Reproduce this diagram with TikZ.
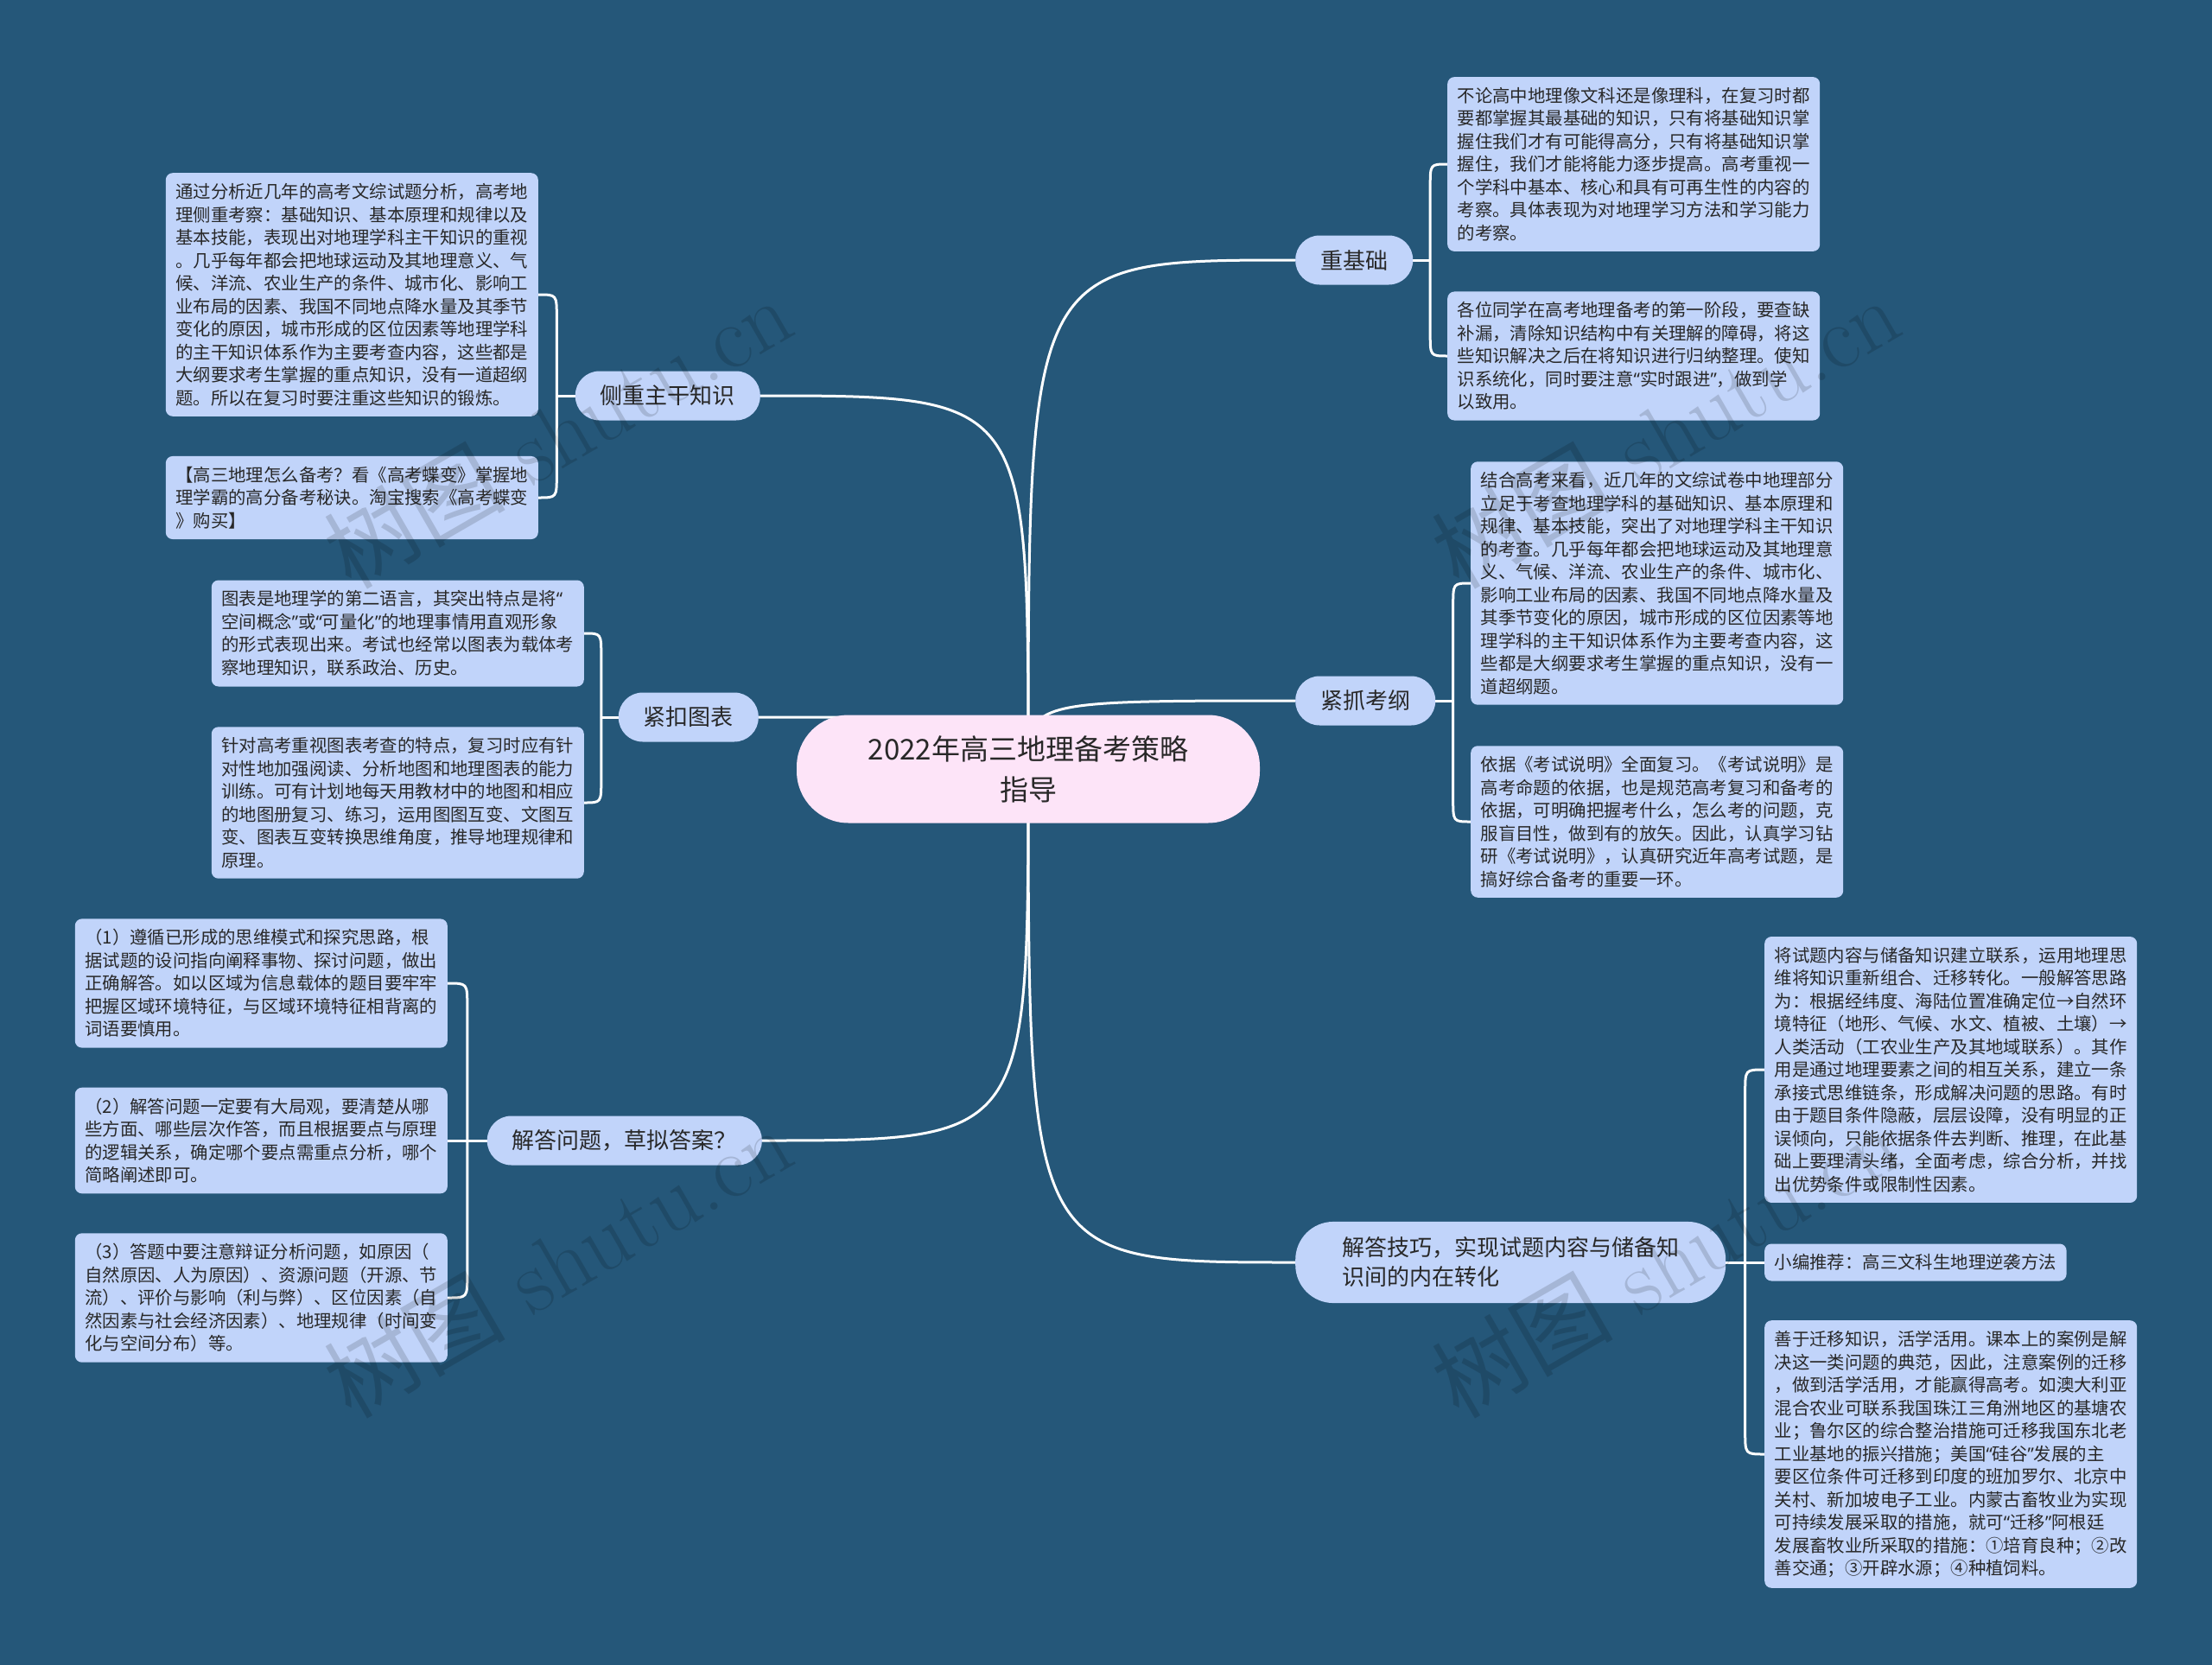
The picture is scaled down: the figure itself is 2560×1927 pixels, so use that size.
\documentclass[tikz,border=0pt]{standalone}
\usepackage{fontspec}
\newfontfamily\cjk{Noto Sans CJK SC}
\newfontfamily\quotefont{Noto Sans}
\newcommand{\qo}{{\quotefont “}}
\newcommand{\qc}{{\quotefont ”}}
\usetikzlibrary{calc,backgrounds}

\definecolor{mapbg}{RGB}{37,87,121}
\definecolor{leafblue}{RGB}{193,212,250}
\definecolor{rootpink}{RGB}{253,228,248}
\definecolor{ink}{RGB}{40,40,40}

\tikzset{
  leaf/.style={fill=leafblue, rounded corners=8pt, align=left, text=ink,
    font=\cjk\fontsize{20.4}{26.5}\selectfont, inner xsep=11.5pt, inner ysep=12pt},
  topic/.style={fill=leafblue, rounded corners=28pt, text=ink,
    font=\cjk\fontsize{26}{34}\selectfont, inner xsep=29pt, minimum height=57pt},
  root/.style={fill=rootpink, rounded corners=60pt, text=ink, align=center,
    font=\cjk\fontsize{33}{47}\selectfont, minimum width=536pt, minimum height=125pt},
  link/.style={draw=white, line width=3pt},
  watermark/.style={rotate=30, text=black, text opacity=0.14,
    font=\fontsize{105}{105}\selectfont}
}

\begin{document}
\begin{tikzpicture}[x=1pt, y=-1pt]
  \useasboundingbox (0,0) rectangle (2560,1927);

  % centre
  \node[root] (root) at (1190,890) {2022年高三地理备考策略\\指导};

  % topics
  \node[topic, anchor=west] (base) at (1499,301) {重基础};
  \node[topic, anchor=west] (outline) at (1499,811) {紧抓考纲};
  \node[topic, anchor=west, align=left, inner xsep=54pt, inner ysep=18pt, rounded corners=44pt] (skill) at (1499,1461) {解答技巧，实现试题内容与储备知\\识间的内在转化};
  \node[topic, anchor=east] (core) at (880,458) {侧重主干知识};
  \node[topic, anchor=east] (chart) at (878,830) {紧扣图表};
  \node[topic, anchor=east] (answer) at (882,1320) {解答问题，草拟答案？};

  % right leaves
  \node[leaf, anchor=west] (baseA) at (1675,190) {不论高中地理像文科还是像理科，在复习时都\\要都掌握其最基础的知识，只有将基础知识掌\\握住我们才有可能得高分，只有将基础知识掌\\握住，我们才能将能力逐步提高。高考重视一\\个学科中基本、核心和具有可再生性的内容的\\考察。具体表现为对地理学习方法和学习能力\\的考察。};
  \node[leaf, anchor=west] (baseB) at (1675,412) {各位同学在高考地理备考的第一阶段，要查缺\\补漏，清除知识结构中有关理解的障碍，将这\\些知识解决之后在将知识进行归纳整理。使知\\识系统化，同时要注意\qo 实时跟进\qc ，做到学\\以致用。};
  \node[leaf, anchor=west] (outlineA) at (1702,675) {结合高考来看，近几年的文综试卷中地理部分\\立足于考查地理学科的基础知识、基本原理和\\规律、基本技能，突出了对地理学科主干知识\\的考查。几乎每年都会把地球运动及其地理意\\义、气候、洋流、农业生产的条件、城市化、\\影响工业布局的因素、我国不同地点降水量及\\其季节变化的原因，城市形成的区位因素等地\\理学科的主干知识体系作为主要考查内容，这\\些都是大纲要求考生掌握的重点知识，没有一\\道超纲题。};
  \node[leaf, anchor=west] (outlineB) at (1702,951) {依据《考试说明》全面复习。《考试说明》是\\高考命题的依据，也是规范高考复习和备考的\\依据，可明确把握考什么，怎么考的问题，克\\服盲目性，做到有的放矢。因此，认真学习钻\\研《考试说明》，认真研究近年高考试题，是\\搞好综合备考的重要一环。};
  \node[leaf, anchor=west] (skillA) at (2042,1238) {将试题内容与储备知识建立联系，运用地理思\\维将知识重新组合、迁移转化。一般解答思路\\为：根据经纬度、海陆位置准确定位→自然环\\境特征（地形、气候、水文、植被、土壤）→\\人类活动（工农业生产及其地域联系）。其作\\用是通过地理要素之间的相互关系，建立一条\\承接式思维链条，形成解决问题的思路。有时\\由于题目条件隐蔽，层层设障，没有明显的正\\误倾向，只能依据条件去判断、推理，在此基\\础上要理清头绪，全面考虑，综合分析，并找\\出优势条件或限制性因素。};
  \node[leaf, anchor=west] (skillB) at (2042,1461) {小编推荐：高三文科生地理逆袭方法};
  \node[leaf, anchor=west] (skillC) at (2042,1683) {善于迁移知识，活学活用。课本上的案例是解\\决这一类问题的典范，因此，注意案例的迁移\\，做到活学活用，才能赢得高考。如澳大利亚\\混合农业可联系我国珠江三角洲地区的基塘农\\业；鲁尔区的综合整治措施可迁移我国东北老\\工业基地的振兴措施；美国\qo 硅谷\qc 发展的主\\要区位条件可迁移到印度的班加罗尔、北京中\\关村、新加坡电子工业。内蒙古畜牧业为实现\\可持续发展采取的措施，就可\qo 迁移\qc 阿根廷\\发展畜牧业所采取的措施：①培育良种；②改\\善交通；③开辟水源；④种植饲料。};

  % left leaves
  \node[leaf, anchor=east] (coreA) at (623,341) {通过分析近几年的高考文综试题分析，高考地\\理侧重考察：基础知识、基本原理和规律以及\\基本技能，表现出对地理学科主干知识的重视\\。几乎每年都会把地球运动及其地理意义、气\\候、洋流、农业生产的条件、城市化、影响工\\业布局的因素、我国不同地点降水量及其季节\\变化的原因，城市形成的区位因素等地理学科\\的主干知识体系作为主要考查内容，这些都是\\大纲要求考生掌握的重点知识，没有一道超纲\\题。所以在复习时要注重这些知识的锻炼。};
  \node[leaf, anchor=east] (coreB) at (623,576) {【高三地理怎么备考？看《高考蝶变》掌握地\\理学霸的高分备考秘诀。淘宝搜索《高考蝶变\\》购买】};
  \node[leaf, anchor=east] (chartA) at (676,733) {图表是地理学的第二语言，其突出特点是将\qo\\空间概念\qc 或\qo 可量化\qc 的地理事情用直观形象\\的形式表现出来。考试也经常以图表为载体考\\察地理知识，联系政治、历史。};
  \node[leaf, anchor=east] (chartB) at (676,929) {针对高考重视图表考查的特点，复习时应有针\\对性地加强阅读、分析地图和地理图表的能力\\训练。可有计划地每天用教材中的地图和相应\\的地图册复习、练习，运用图图互变、文图互\\变、图表互变转换思维角度，推导地理规律和\\原理。};
  \node[leaf, anchor=east] (answerA) at (518,1138) {（1）遵循已形成的思维模式和探究思路，根\\据试题的设问指向阐释事物、探讨问题，做出\\正确解答。如以区域为信息载体的题目要牢牢\\把握区域环境特征，与区域环境特征相背离的\\词语要慎用。};
  \node[leaf, anchor=east] (answerB) at (518,1320) {（2）解答问题一定要有大局观，要清楚从哪\\些方面、哪些层次作答，而且根据要点与原理\\的逻辑关系，确定哪个要点需重点分析，哪个\\简略阐述即可。};
  \node[leaf, anchor=east] (answerC) at (518,1502) {（3）答题中要注意辩证分析问题，如原因（\\自然原因、人为原因）、资源问题（开源、节\\流）、评价与影响（利与弊）、区位因素（自\\然因素与社会经济因素）、地理规律（时间变\\化与空间分布）等。};

  % bracket spines
  \coordinate (baseS) at ($(base.east)!0.5!(base.east -| baseA.west)$);
  \coordinate (outlineS) at ($(outline.east)!0.5!(outline.east -| outlineA.west)$);
  \coordinate (skillS) at ($(skill.east)!0.5!(skill.east -| skillA.west)$);
  \coordinate (coreS) at ($(core.west)!0.5!(core.west -| coreA.east)$);
  \coordinate (chartS) at ($(chart.west)!0.5!(chart.west -| chartA.east)$);
  \coordinate (answerS) at ($(answer.west)!0.5!(answer.west -| answerA.east)$);

  \begin{scope}[on background layer]
    \fill[mapbg] (0,0) rectangle (2560,1927);

    % centre to topics
    \draw[link] (root.center) .. controls (root.center |- base.west) .. (base.west);
    \draw[link] (root.center) .. controls (root.center |- outline.west) .. (outline.west);
    \draw[link] (root.center) .. controls (root.center |- skill.west) .. (skill.west);
    \draw[link] (root.center) .. controls (root.center |- core.east) .. (core.east);
    \draw[link] (root.center) .. controls (root.center |- chart.east) .. (chart.east);
    \draw[link] (root.center) .. controls (root.center |- answer.east) .. (answer.east);

    % topics to leaves
    \draw[link] (base.east) -- (baseS);
    \draw[link] (baseS) -- ($(baseS |- baseA.west)+(0,26)$) .. controls (baseS |- baseA.west) .. (baseA.west);
    \draw[link] (baseS) -- ($(baseS |- baseB.west)+(0,-26)$) .. controls (baseS |- baseB.west) .. (baseB.west);

    \draw[link] (outline.east) -- (outlineS);
    \draw[link] (outlineS) -- ($(outlineS |- outlineA.west)+(0,26)$) .. controls (outlineS |- outlineA.west) .. (outlineA.west);
    \draw[link] (outlineS) -- ($(outlineS |- outlineB.west)+(0,-26)$) .. controls (outlineS |- outlineB.west) .. (outlineB.west);

    \draw[link] (skill.east) -- (skillB.west);
    \draw[link] (skillS) -- ($(skillS |- skillA.west)+(0,26)$) .. controls (skillS |- skillA.west) .. (skillA.west);
    \draw[link] (skillS) -- ($(skillS |- skillC.west)+(0,-26)$) .. controls (skillS |- skillC.west) .. (skillC.west);

    \draw[link] (core.west) -- (coreS);
    \draw[link] (coreS) -- ($(coreS |- coreA.east)+(0,26)$) .. controls (coreS |- coreA.east) .. (coreA.east);
    \draw[link] (coreS) -- ($(coreS |- coreB.east)+(0,-26)$) .. controls (coreS |- coreB.east) .. (coreB.east);

    \draw[link] (chart.west) -- (chartS);
    \draw[link] (chartS) -- ($(chartS |- chartA.east)+(0,26)$) .. controls (chartS |- chartA.east) .. (chartA.east);
    \draw[link] (chartS) -- ($(chartS |- chartB.east)+(0,-26)$) .. controls (chartS |- chartB.east) .. (chartB.east);

    \draw[link] (answer.west) -- (answerB.east);
    \draw[link] (answerS) -- ($(answerS |- answerA.east)+(0,26)$) .. controls (answerS |- answerA.east) .. (answerA.east);
    \draw[link] (answerS) -- ($(answerS |- answerC.east)+(0,-26)$) .. controls (answerS |- answerC.east) .. (answerC.east);
  \end{scope}

  % watermarks
  \node[watermark] at (645,500) {{\cjk 树图} shutu.cn};
  \node[watermark] at (1927,500) {{\cjk 树图} shutu.cn};
  \node[watermark] at (645,1460) {{\cjk 树图} shutu.cn};
  \node[watermark] at (1927,1460) {{\cjk 树图} shutu.cn};
\end{tikzpicture}
\end{document}
